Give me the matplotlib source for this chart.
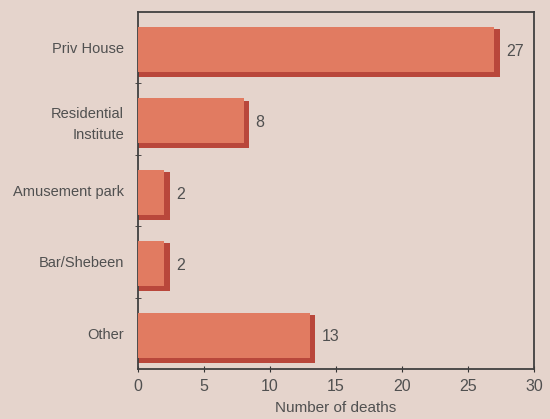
import numpy as np
from matplotlib import pyplot as plt

# data
categories = ['Priv House', 'Residential\nInstitute', 'Amusement park', 'Bar/Shebeen', 'Other']
deaths = [27, 8, 2, 2, 13]
xticks = [0, 5, 10, 15, 20, 25, 30]

BG = '#e5d4cc'
FACE = '#e17b61'
SHADE = '#b9473b'
TXT = '#505050'

plt.rcParams['font.family'] = ['Liberation Sans', 'DejaVu Sans']

fig = plt.figure(figsize=(5.5, 4.19), dpi=100, facecolor=BG)
ax = fig.add_axes([138 / 550, 50 / 419, 396 / 550, 357 / 419], facecolor=BG)

y = np.arange(len(categories))
vals = np.array(deaths, dtype=float)

# darker bar behind, shifted right/down, gives the 3d shading
ax.barh(y + 0.075, vals + 0.4, height=0.67, color=SHADE, zorder=2)
ax.barh(y + 0.025, vals, height=0.63, color=FACE, zorder=3)

for yi, v in zip(y, deaths):
    ax.text(v + 0.9, yi + 0.05, str(v), va='center', ha='left', fontsize=11.5, color=TXT)

ax.set_xlim(0, 30)
ax.set_ylim(len(categories) - 0.5, -0.5)
ax.set_xticks(xticks)
ax.set_yticks(y)
ax.set_yticklabels(categories, fontsize=10.5, color=TXT, linespacing=1.7)
ax.set_yticks(np.arange(len(categories) - 1) + 0.5, minor=True)
ax.tick_params(axis='y', which='major', length=0, pad=10)
ax.tick_params(axis='y', which='minor', length=4, direction='inout', color='#333333')
ax.tick_params(axis='x', length=5, direction='inout', color='#333333', labelsize=11.5, labelcolor=TXT, pad=5)
ax.set_xlabel('Number of deaths', fontsize=11, color=TXT, labelpad=5)

for s in ax.spines.values():
    s.set_color('#404040')
    s.set_linewidth(1.3)

fig.savefig('out.png', dpi=100, facecolor=BG)
